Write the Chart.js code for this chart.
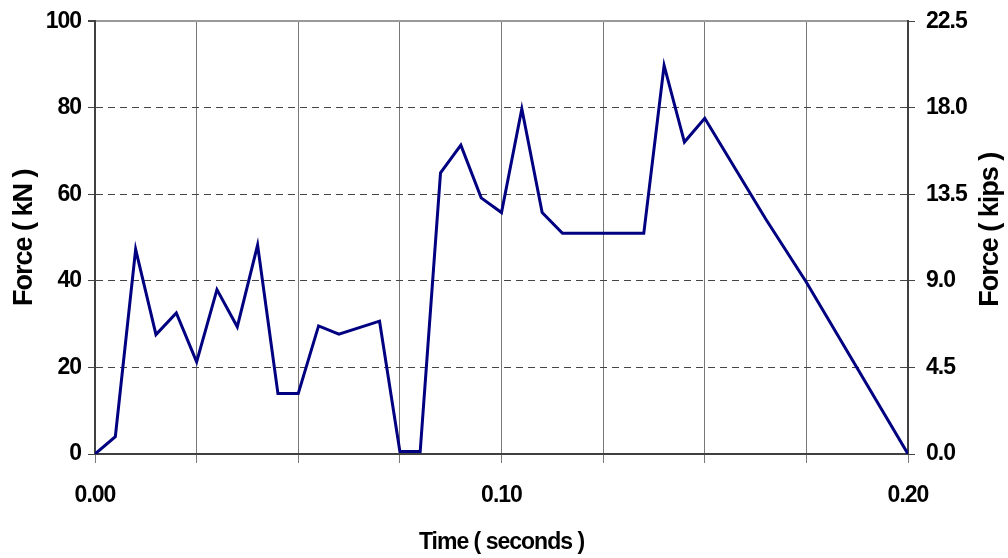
<!DOCTYPE html>
<html lang="en">
<head>
    <meta charset="UTF-8">
    <script src="https://cdn.jsdelivr.net/npm/chart.js"></script>
    <title>Force vs Time</title>
    <style>
        html, body { margin: 0; padding: 0; background: #fff; }
        #wrap { width: 1008px; height: 558px; }
    </style>
</head>
<body>
    <div id="wrap"><canvas id="chart" width="1008" height="558"></canvas></div>

    <script>
        // data
        const times = [0, 0.005, 0.01, 0.015, 0.02, 0.025, 0.03, 0.035, 0.04, 0.045, 0.05, 0.055, 0.06, 0.07,
                       0.075, 0.08, 0.085, 0.09, 0.095, 0.1, 0.105, 0.11, 0.115, 0.135, 0.14, 0.145, 0.15,
                       0.165, 0.175, 0.2];
        const forceKN = [0, 4.0, 47.3, 27.6, 32.6, 21.3, 38.0, 29.4, 48.3, 14.0, 14.0, 29.6, 27.7, 30.7,
                         0.6, 0.6, 65.0, 71.4, 59.2, 55.8, 79.8, 55.8, 51.0, 51.0, 89.8, 72.1, 77.6,
                         54.3, 39.7, 0];
        const xLabelled = [0, 0.1, 0.2];

        const fontFamily = '"Liberation Sans", Arial, sans-serif';

        // letter spacing on all text + right title reading bottom to top
        const textPlugin = {
            id: 'textPlugin',
            beforeDraw(chart) {
                chart.ctx.letterSpacing = '-1px';
            },
            afterDraw(chart) {
                const ctx = chart.ctx;
                const area = chart.chartArea;
                ctx.save();
                ctx.letterSpacing = '-1px';
                ctx.font = 'bold 27px ' + fontFamily;
                ctx.fillStyle = '#000';
                ctx.textAlign = 'center';
                ctx.textBaseline = 'middle';
                ctx.translate(991, (area.top + area.bottom) / 2 - 8);
                ctx.rotate(-Math.PI / 2);
                ctx.fillText('Force ( kips )', 0, 0);
                ctx.restore();
            }
        };

        const ctx = document.getElementById('chart').getContext('2d');
        new Chart(ctx, {
            type: 'line',
            data: {
                datasets: [{
                    data: times.map((t, i) => ({ x: t, y: forceKN[i] })),
                    borderColor: '#000080',
                    borderWidth: 3,
                    pointRadius: 0,
                    tension: 0,
                    fill: false
                }]
            },
            options: {
                responsive: false,
                animation: false,
                layout: { padding: { top: 21 } },
                plugins: {
                    legend: { display: false },
                    tooltip: { enabled: false }
                },
                scales: {
                    x: {
                        type: 'linear',
                        position: 'bottom',
                        min: 0,
                        max: 0.2,
                        afterFit: s => { s.height = 104; },
                        afterBuildTicks: s => {
                            s.ticks = [];
                            for (let i = 0; i <= 8; i++) s.ticks.push({ value: i * 0.025 });
                        },
                        ticks: {
                            autoSkip: false,
                            maxRotation: 0,
                            padding: 19,
                            color: '#000',
                            font: { family: fontFamily, size: 23, weight: 'bold' },
                            callback: v => xLabelled.some(l => Math.abs(l - v) < 1e-9) ? v.toFixed(2) : ''
                        },
                        grid: { color: '#777', lineWidth: 1, tickLength: 9, tickColor: '#777' },
                        border: { color: '#404040', width: 2 },
                        title: {
                            display: true,
                            text: 'Time ( seconds )',
                            color: '#000',
                            padding: { top: 0, bottom: 2 },
                            font: { family: fontFamily, size: 23, weight: 'bold' }
                        }
                    },
                    y: {
                        position: 'left',
                        min: 0,
                        max: 100,
                        afterFit: s => { s.width = 95; },
                        ticks: {
                            stepSize: 20,
                            padding: 7,
                            color: '#000',
                            font: { family: fontFamily, size: 23, weight: 'bold', lineHeight: 0.9 }
                        },
                        grid: {
                            color: c => c.tick && c.tick.value === 100 ? '#999' : '#444',
                            lineWidth: c => c.tick && c.tick.value === 100 ? 2 : 1,
                            tickLength: 7,
                            tickColor: '#444'
                        },
                        border: {
                            color: '#404040',
                            width: 2,
                            dash: c => c.tick && c.tick.value === 100 ? [] : [7, 5]
                        },
                        title: {
                            display: true,
                            text: 'Force ( kN )',
                            color: '#000',
                            padding: { top: 8, bottom: 0 },
                            font: { family: fontFamily, size: 27, weight: 'bold' }
                        }
                    },
                    y2: {
                        position: 'right',
                        min: 0,
                        max: 22.5,
                        afterFit: s => { s.width = 100; },
                        ticks: {
                            stepSize: 4.5,
                            padding: 11,
                            color: '#000',
                            font: { family: fontFamily, size: 23, weight: 'bold', lineHeight: 0.9 },
                            callback: v => v.toFixed(1)
                        },
                        grid: { drawOnChartArea: false, tickLength: 7, tickColor: '#444' },
                        border: { color: '#404040', width: 2 }
                    }
                }
            },
            plugins: [textPlugin]
        });
    </script>
</body>
</html>
